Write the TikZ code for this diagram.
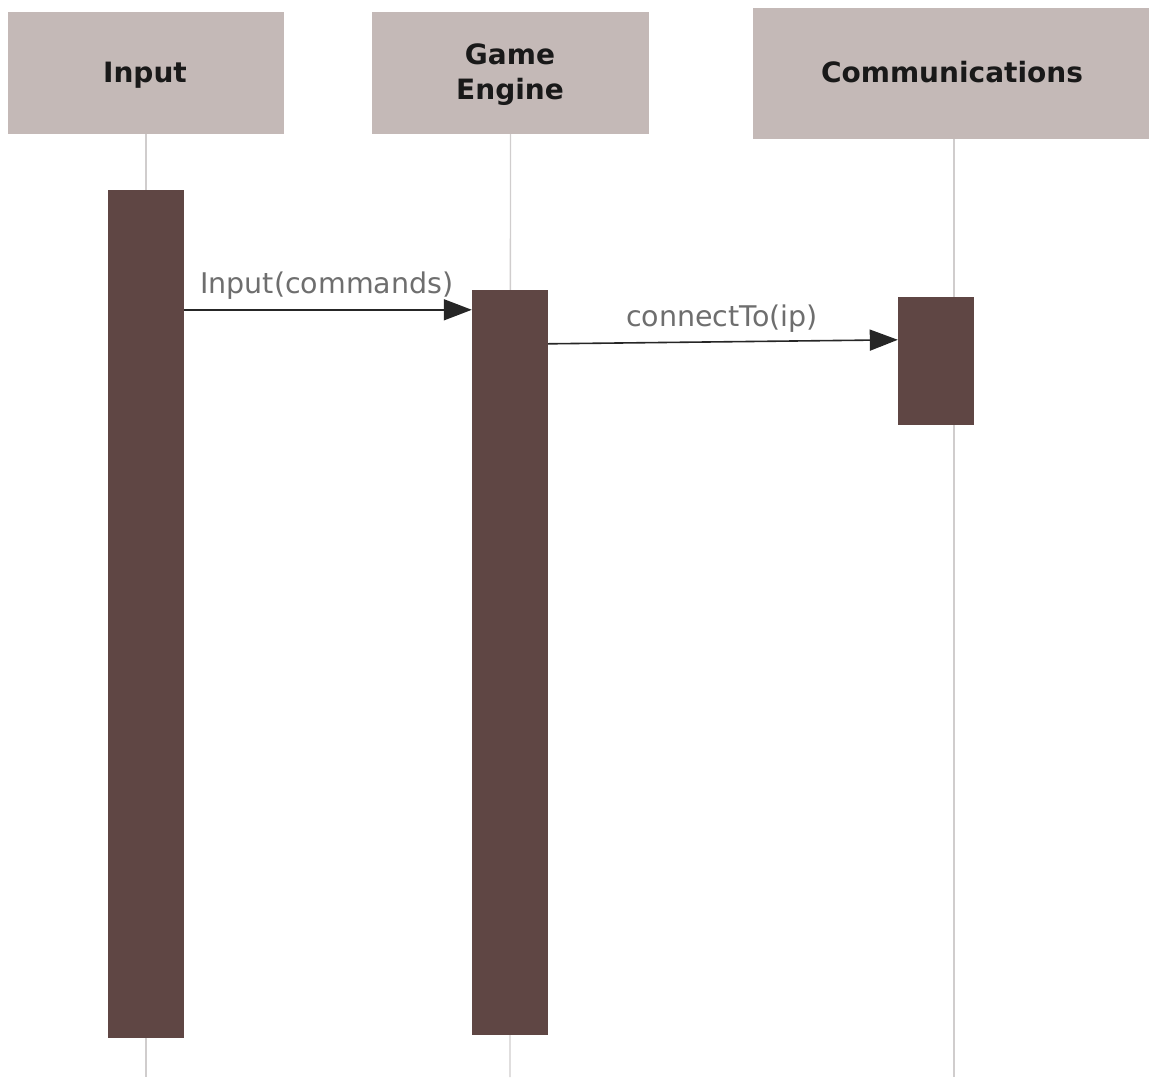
\documentclass[tikz,border=0pt]{standalone}
\usepackage{fontspec}
\setmainfont{DejaVu Sans}
\usetikzlibrary{arrows.meta,calc}
\definecolor{headfill}{HTML}{C4B9B7}
\definecolor{barfill}{HTML}{5F4644}
\definecolor{lifegray}{HTML}{D0CDCD}
\definecolor{msgtext}{HTML}{6E6E6E}
\begin{document}
\begin{tikzpicture}[x=1pt,y=-1pt,
  header/.style={fill=headfill, draw=none, inner sep=0pt},
  headtext/.style={inner sep=0pt, align=center,
    font=\fontsize{28}{35}\selectfont\bfseries, text=black!90},
  actbar/.style={fill=barfill, draw=none, inner sep=0pt, minimum width=76pt},
  lifeline/.style={draw=lifegray, line width=1.4pt},
  msg/.style={draw=black!85, line width=1.6pt, -{Triangle[length=28pt,width=21pt]}},
  msglabel/.style={font=\fontsize{28.5}{30}\selectfont, text=msgtext, inner sep=0pt}]
\useasboundingbox (0,0) rectangle (1149,1077);

% participant headers
\node[header, minimum width=276pt, minimum height=122pt] (hin) at (146,73) {};
\node[header, minimum width=277pt, minimum height=122pt] (hge) at (510.5,73) {};
\node[header, minimum width=396pt, minimum height=131pt] (hcm) at (951,73.5) {};
\node[headtext, anchor=base] (tin) at (145,82) {Input};
\node[headtext, anchor=base] (tge) at (510,99) {Game\\Engine};
\node[headtext, anchor=base] (tcm) at (952,82) {Communications};

% lifeline ends
\coordinate (ein) at (146,1077);
\coordinate (ege) at (510,1077);
\coordinate (ecm) at (954,1077);

% lifelines
\draw[lifeline] (hin.south) -- (ein);
\draw[lifeline] (hge.south) -- (ege);
\draw[lifeline] (hcm.south -| ecm) -- (ecm);

% activation bars
\node[actbar, minimum height=848pt] (ain) at (146,614) {};
\node[actbar, minimum height=745pt] (age) at (510,662.5) {};
\node[actbar, minimum height=128pt] (acm) at (936,361) {};

% messages
\draw[msg] ([yshift=-120pt]ain.north east) -- ([yshift=-20pt]age.north west);
\node[msglabel, anchor=base west] (l1) at (200,293) {Input(commands)};
\draw[msg] ([yshift=-54pt]age.north east) -- ([yshift=-43pt]acm.north west);
\node[msglabel, anchor=base] (l2) at (722,326) {connectTo(ip)};
\end{tikzpicture}
\end{document}
